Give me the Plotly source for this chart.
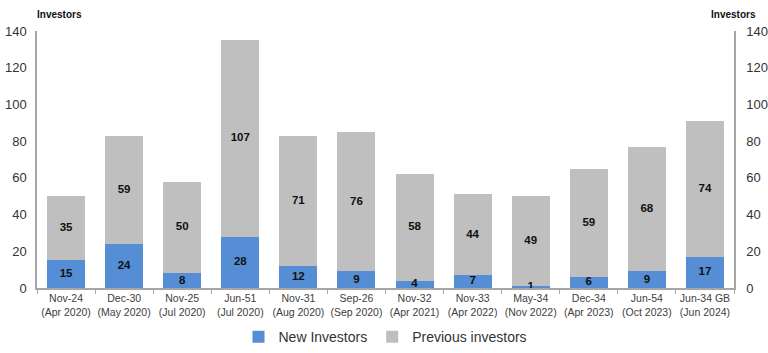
import plotly.graph_objects as go

categories = ["Nov-24<br>(Apr 2020)", "Dec-30<br>(May 2020)", "Nov-25<br>(Jul 2020)", "Jun-51<br>(Jul 2020)",
              "Nov-31<br>(Aug 2020)", "Sep-26<br>(Sep 2020)", "Nov-32<br>(Apr 2021)", "Nov-33<br>(Apr 2022)",
              "May-34<br>(Nov 2022)", "Dec-34<br>(Apr 2023)", "Jun-54<br>(Oct 2023)", "Jun-34 GB<br>(Jun 2024)"]
new_investors = [15, 24, 8, 28, 12, 9, 4, 7, 1, 6, 9, 17]
previous_investors = [35, 59, 50, 107, 71, 76, 58, 44, 49, 59, 68, 74]
y_ticks = [0, 20, 40, 60, 80, 100, 120, 140]

BLUE = "#558ED5"
GRAY = "#BFBFBF"
LABEL_FONT = dict(family="Liberation Sans, Arial", size=11.5, color="#111111", weight="bold")

fig = go.Figure()
fig.add_trace(go.Bar(x=categories, y=new_investors, name="New Investors", marker_color=BLUE,
                     marker_line_width=0))
fig.add_trace(go.Bar(x=categories, y=previous_investors, name="Previous investors", marker_color=GRAY,
                     marker_line_width=0))

# labels centred in each segment
fig.add_trace(go.Scatter(x=categories, y=[v / 2 for v in new_investors], mode="text",
                         text=[str(v) for v in new_investors], showlegend=False, hoverinfo="skip",
                         textfont=LABEL_FONT))
fig.add_trace(go.Scatter(x=categories, y=[n + p / 2 for n, p in zip(new_investors, previous_investors)],
                         mode="text", text=[str(v) for v in previous_investors], showlegend=False,
                         hoverinfo="skip", textfont=LABEL_FONT))
# invisible trace to activate right axis
fig.add_trace(go.Scatter(x=categories, y=[None] * len(categories), yaxis="y2", showlegend=False,
                         hoverinfo="skip", mode="markers"))

fig.update_layout(
    width=768, height=353,
    margin=dict(l=37, r=34, t=31, b=65),
    barmode="stack", bargap=0.345,
    plot_bgcolor="white", paper_bgcolor="white",
    font=dict(family="Liberation Sans, Arial", color="#333333"),
    xaxis=dict(range=[-0.5, len(categories) - 0.5], autorange=False,
               showline=True, linecolor="#A6A6A6", linewidth=1.5, ticks="outside", ticklen=4,
               tickcolor="#A6A6A6", tickson="boundaries", tickfont=dict(size=10.5, color="#404040"),
               showgrid=False, tickangle=0, automargin=False),
    yaxis=dict(range=[0, 140], tickvals=y_ticks, showline=True, linecolor="#A6A6A6", linewidth=1.5,
               showgrid=False, zeroline=False, tickfont=dict(size=13, color="#333333"), ticks="",
               automargin=False, ticklabelstandoff=6),
    yaxis2=dict(range=[0, 140], tickvals=y_ticks, overlaying="y", side="right", showline=True,
                linecolor="#A6A6A6", linewidth=1.5, showgrid=False, zeroline=False,
                tickfont=dict(size=13, color="#333333"), automargin=False, ticklabelstandoff=8),
    legend=dict(orientation="h", x=0.5, xanchor="center", yref="container", y=0.045, yanchor="middle",
                font=dict(size=14, color="#333333"), traceorder="normal", itemwidth=30),
    annotations=[
        dict(text="<b>Investors</b>", xref="paper", yref="paper", x=-0.003, y=1.0, yshift=9,
             xanchor="left", yanchor="bottom", showarrow=False, font=dict(size=10, color="#111111")),
        dict(text="<b>Investors</b>", xref="paper", yref="paper", x=0.999, y=1.0, yshift=9,
             xanchor="center", yanchor="bottom", showarrow=False, font=dict(size=10, color="#111111")),
    ],
)

fig.write_html("out.html")
